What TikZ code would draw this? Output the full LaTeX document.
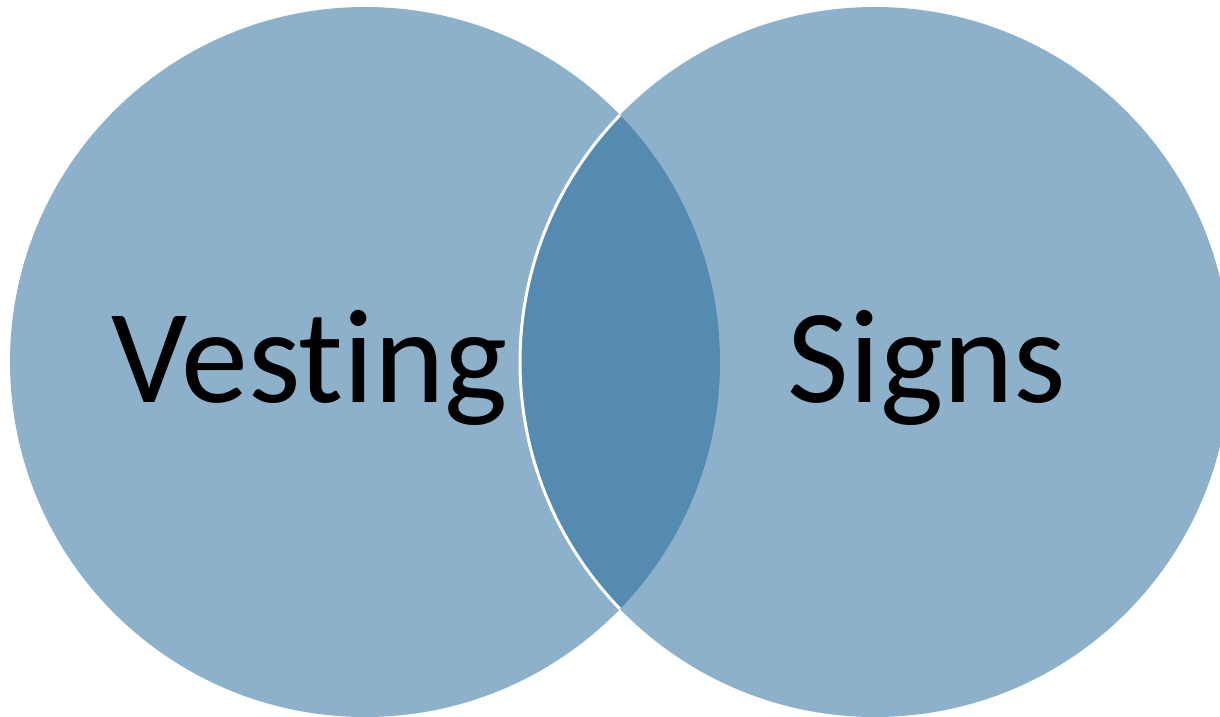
\documentclass[tikz,border=0pt]{standalone}
\usepackage{fontspec}
\setmainfont[Ligatures={NoCommon,NoRare},Contextuals=NoAlternate]{Carlito}
\definecolor{lightblue}{RGB}{142,177,203}
\definecolor{darkblue}{RGB}{85,139,176}
\begin{document}
\begin{tikzpicture}[x=1pt,y=-1pt,
  setcircle/.style={fill=lightblue},
  label/.style={font=\fontsize{134}{150}\selectfont, anchor=base, inner sep=0pt}]
\useasboundingbox (0,0) rectangle (1220,717);
\begin{scope}
\clip (0,0) rectangle (1220,717);
\coordinate (cl) at (365,362);
\coordinate (cr) at (875,362);
\fill[setcircle] (cl) circle[radius=355];
\fill[setcircle] (cr) circle[radius=355];
\begin{scope}
\clip (cl) circle[radius=355];
\fill[darkblue] (cr) circle[radius=355];
\end{scope}
\begin{scope}
\clip (cl) circle[radius=355];
\draw[white, line width=3] (cr) circle[radius=355];
\end{scope}
\end{scope}
\node[label] (vesting) at (310,402) {Vesting};
\node[label] (signs) at (927,402) {Signs};
\end{tikzpicture}
\end{document}
